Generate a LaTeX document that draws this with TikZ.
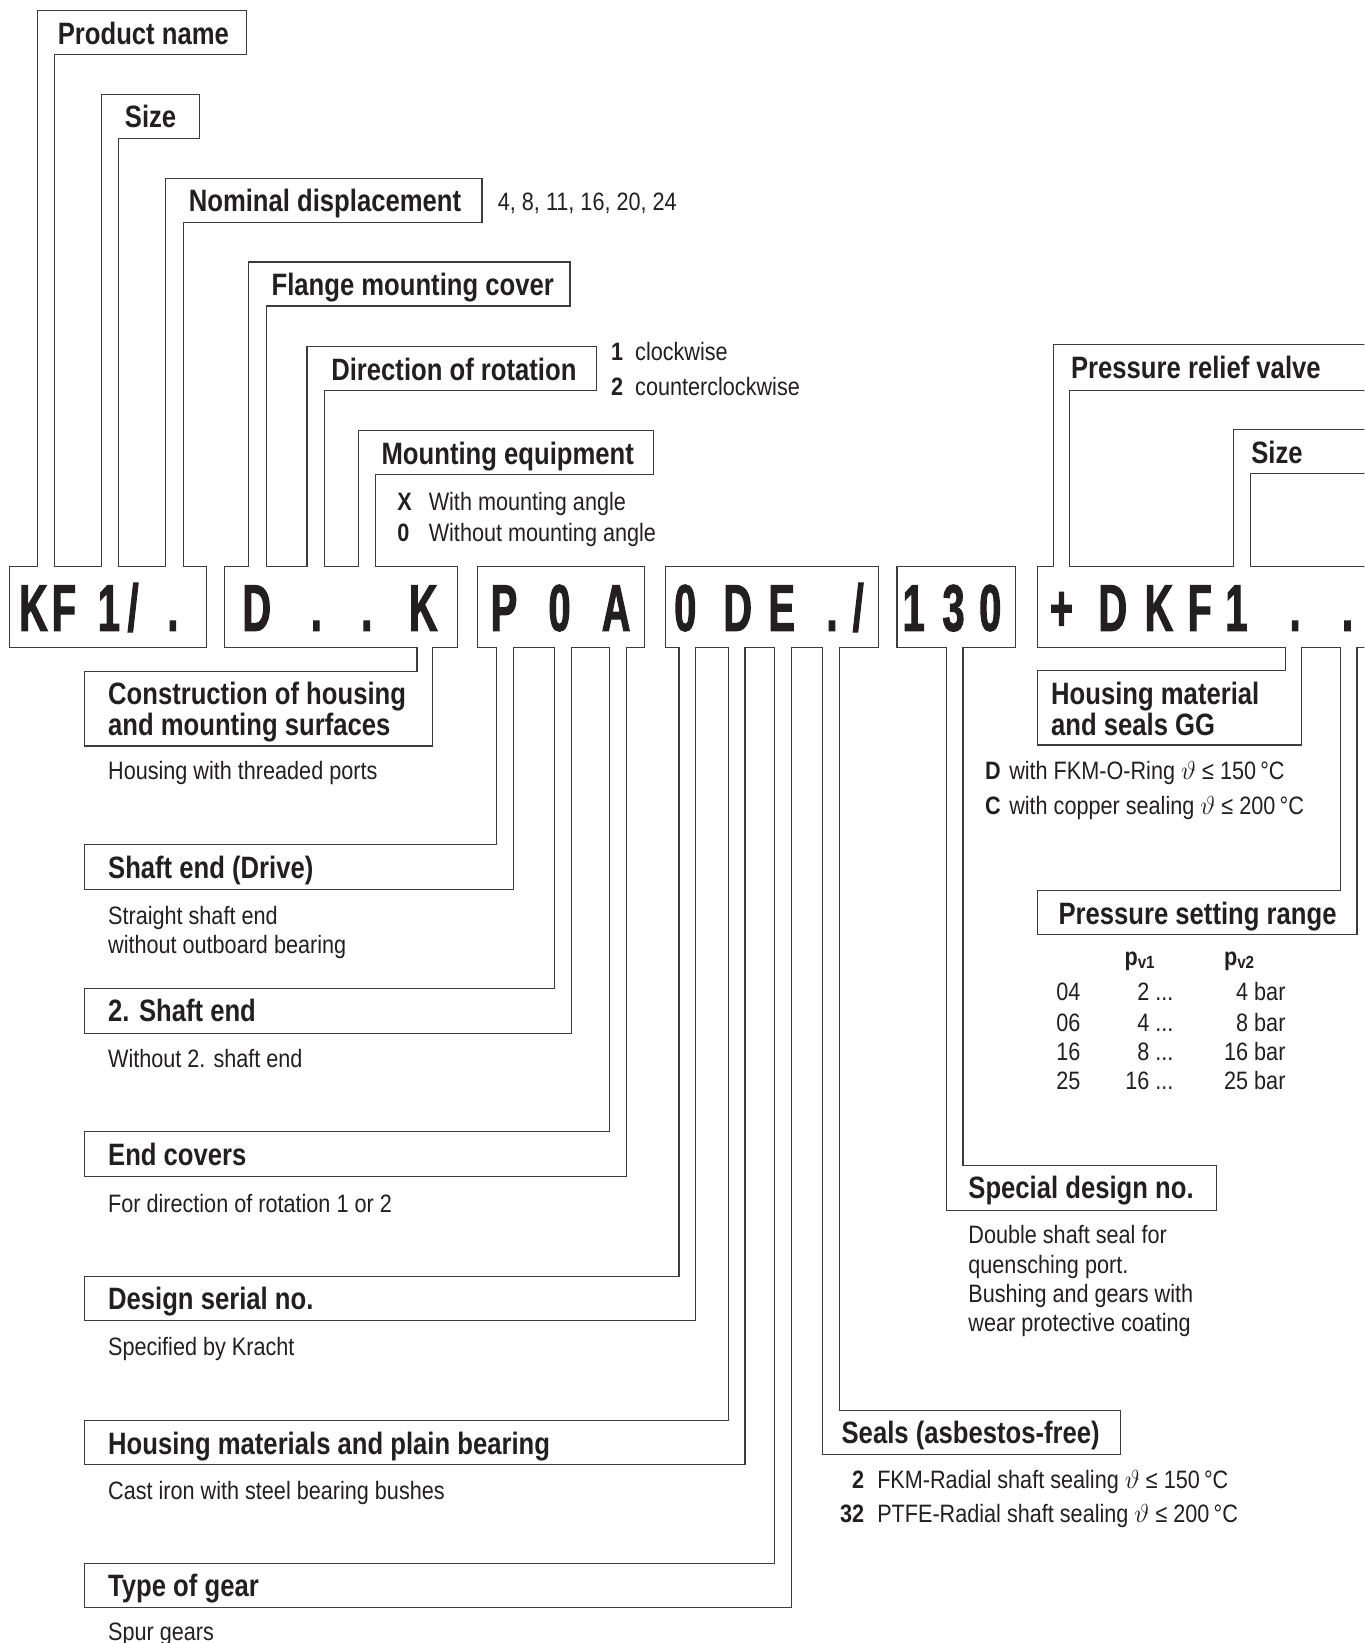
\documentclass[tikz,border=0pt]{standalone}
\usepackage{fontspec}
\setmainfont{Liberation Sans}[FakeStretch=0.86]
\newfontfamily\titlefam{Liberation Sans}[FakeStretch=0.83]
\newfontfamily\codefam{Liberation Sans}[FakeStretch=0.6, FakeBold=1.5]
\definecolor{ink}{RGB}{35,31,32}
\definecolor{rulegray}{RGB}{60,60,60}

\tikzset{
  outline/.style={draw=rulegray, line width=1.1pt, line join=miter},
  lbl/.style={font=\titlefam\bfseries\fontsize{29.5}{30}\selectfont, text=ink, anchor=base west, inner sep=0pt, align=left},
  txt/.style={font=\fontsize{24}{28}\selectfont, text=ink, anchor=base west, inner sep=0pt, align=left},
  keych/.style={txt, font=\bfseries\fontsize{24}{28}\selectfont},
  codech/.style={font=\codefam\bfseries\fontsize{63}{63}\selectfont, text=ink, anchor=base, inner sep=0pt}
}

\begin{document}
\begin{tikzpicture}[x=1pt,y=-1pt]
    \useasboundingbox (0,0) rectangle (1302,1568);
    \clip (0,0) rectangle (1302,1568);
  %  \draw[help lines, step=50] (0,0) grid (1302,1568);

    % code boxes with their label brackets
    \draw[outline] (9,618) -- (9,541) -- (36,541) -- (36,10) -- (235,10) -- (235,52) -- (52,52) -- (52,541)
        -- (97,541) -- (97,90) -- (190,90) -- (190,132) -- (113,132) -- (113,541)
        -- (158,541) -- (158,170) -- (460,170) -- (460,212) -- (175,212) -- (175,541)
        -- (197,541) -- (197,618) -- cycle;
    \draw[outline] (214,618) -- (214,541) -- (237,541) -- (237,250) -- (544,250) -- (544,292) -- (254,292) -- (254,541)
        -- (293,541) -- (293,331) -- (569,331) -- (569,373) -- (310,373) -- (310,541)
        -- (342,541) -- (342,411) -- (624,411) -- (624,453) -- (358,453) -- (358,541)
        -- (437,541) -- (437,618) -- (413,618) -- (413,712) -- (81,712) -- (81,641) -- (398,641) -- (398,618) -- cycle;
    \draw[outline] (456,541) -- (615,541) -- (615,618)
        -- (598,618) -- (598,1123) -- (81,1123) -- (81,1080) -- (582,1080) -- (582,618)
        -- (545,618) -- (545,986) -- (81,986) -- (81,943) -- (529,943) -- (529,618)
        -- (490,618) -- (490,849) -- (81,849) -- (81,806) -- (474,806) -- (474,618)
        -- (456,618) -- cycle;
    \draw[outline] (635,541) -- (838,541) -- (838,618)
        -- (801,618) -- (801,1346) -- (1069,1346) -- (1069,1388) -- (785,1388) -- (785,618)
        -- (755,618) -- (755,1534) -- (81,1534) -- (81,1492) -- (739,1492) -- (739,618)
        -- (711,618) -- (711,1398) -- (81,1398) -- (81,1356) -- (695,1356) -- (695,618)
        -- (664,618) -- (664,1260) -- (81,1260) -- (81,1218) -- (648,1218) -- (648,618)
        -- (635,618) -- cycle;
    \draw[outline] (856,541) -- (969,541) -- (969,618)
        -- (919,618) -- (919,1112) -- (1161,1112) -- (1161,1155) -- (903,1155) -- (903,618)
        -- (856,618) -- cycle;
    \draw[outline] (1310,541) -- (1193,541) -- (1193,452) -- (1310,452);
    \draw[outline] (1310,410) -- (1177,410) -- (1177,541) -- (1021,541) -- (1021,373) -- (1310,373);
    \draw[outline] (1310,329) -- (1005,329) -- (1005,541) -- (990,541) -- (990,618)
        -- (1227,618) -- (1227,640) -- (990,640) -- (990,711) -- (1242,711) -- (1242,618)
        -- (1279,618) -- (1279,850) -- (990,850) -- (990,892) -- (1295,892) -- (1295,618) -- (1310,618);

    % type code
    \node[codech] (k1) at (32,602) {K};
    \node[codech] (k2) at (61,602) {F};
    \node[codech] (k3) at (104,602) {1};
    \node[codech] (k4) at (127,602) {/};
    \node[codech] (k5) at (165,602) {.};
    \node[codech] (d1) at (245,602) {D};
    \node[codech] (d2) at (302,602) {.};
    \node[codech] (d3) at (350,602) {.};
    \node[codech] (d4) at (404,602) {K};
    \node[codech] (p1) at (481,602) {P};
    \node[codech] (p2) at (534,602) {0};
    \node[codech] (p3) at (588,602) {A};
    \node[codech] (e1) at (654,602) {0};
    \node[codech] (e2) at (704,602) {D};
    \node[codech] (e3) at (746,602) {E};
    \node[codech] (e4) at (794,602) {.};
    \node[codech] (e5) at (819,602) {/};
    \node[codech] (s1) at (872,602) {1};
    \node[codech] (s2) at (910,602) {3};
    \node[codech] (s3) at (945,602) {0};
    \node[codech] (v1) at (1013,602) {+};
    \node[codech] (v2) at (1062,602) {D};
    \node[codech] (v3) at (1106,602) {K};
    \node[codech] (v4) at (1145,602) {F};
    \node[codech] (v5) at (1180,602) {1};
    \node[codech] (v6) at (1236,602) {.};
    \node[codech] (v7) at (1286,602) {.};

    % upper labels
    \node[lbl] (prodname) at (55,42) {Product name};
    \node[lbl] (size) at (119,122) {Size};
    \node[lbl] (nomdisp) at (180,202) {Nominal displacement};
    \node[txt] (nomvals) at (475,201) {4, 8, 11, 16, 20, 24};
    \node[lbl] (flange) at (259,282) {Flange mounting cover};
    \node[lbl] (dirrot) at (316,363) {Direction of rotation};
    \node[keych] (rot1k) at (583,344) {1};
    \node[txt] (rot1) at (606,344) {clockwise};
    \node[keych] (rot2k) at (583,377) {2};
    \node[txt] (rot2) at (606,377) {counterclockwise};
    \node[lbl] (mounteq) at (364,443) {Mounting equipment};
    \node[keych] (mtxk) at (379,487) {X};
    \node[txt] (mtx) at (409,487) {With mounting angle};
    \node[keych] (mt0k) at (379,517) {0};
    \node[txt] (mt0) at (409,517) {Without mounting angle};

    % lower labels, left (base = last line)
    \node[lbl] (constr) at (103,702) {Construction of housing\\and mounting surfaces};
    \node[txt] (constrtxt) at (103,744) {Housing with threaded ports};
    \node[lbl] (shaft) at (103,838) {Shaft end (Drive)};
    \node[txt] (shafttxt) at (103,910) {Straight shaft end\\without outboard bearing};
    \node[lbl] (shaft2) at (103,975) {2. Shaft end};
    \node[txt] (shaft2txt) at (103,1019) {Without 2. shaft end};
    \node[lbl] (covers) at (103,1112) {End covers};
    \node[txt] (coverstxt) at (103,1157) {For direction of rotation 1 or 2};
    \node[lbl] (serial) at (103,1250) {Design serial no.};
    \node[txt] (serialtxt) at (103,1294) {Specified by Kracht};
    \node[lbl] (housmat) at (103,1388) {Housing materials and plain bearing};
    \node[txt] (housmattxt) at (103,1431) {Cast iron with steel bearing bushes};
    \node[lbl] (gear) at (103,1524) {Type of gear};
    \node[txt] (geartxt) at (103,1566) {Spur gears};

    % lower labels, right
    \node[lbl] (seals) at (803,1378) {Seals (asbestos-free)};
    \node[keych, anchor=base east] (seal2k) at (825,1421) {2};
    \node[txt] (seal2) at (837,1421) {FKM-Radial shaft sealing $\vartheta$ ≤ 150\,°C};
    \node[keych, anchor=base east] (seal32k) at (825,1453) {32};
    \node[txt] (seal32) at (837,1453) {PTFE-Radial shaft sealing $\vartheta$ ≤ 200\,°C};
    \node[lbl] (special) at (924,1144) {Special design no.};
    \node[txt] (specialtxt) at (924,1271) {Double shaft seal for\\quensching port.\\Bushing and gears with\\wear protective coating};

    % relief valve
    \node[lbl] (prv) at (1022,361) {Pressure relief valve};
    \node[lbl] (prvsize) at (1194,442) {Size};
    \node[lbl] (gg) at (1003,702) {Housing material\\and seals GG};
    \node[keych] (ggDk) at (940,744) {D};
    \node[txt] (ggD) at (963,744) {with FKM-O-Ring $\vartheta$ ≤ 150\,°C};
    \node[keych] (ggCk) at (940,777) {C};
    \node[txt] (ggC) at (963,777) {with copper sealing $\vartheta$ ≤ 200\,°C};
    \node[lbl] (psr) at (1010,882) {Pressure setting range};
    \node[keych] (pv1) at (1073,921) {p\textsubscript{v1}};
    \node[keych] (pv2) at (1168,921) {p\textsubscript{v2}};
    \node[txt] (r1a) at (1008,955) {04};
    \node[txt, anchor=base east] (r1b) at (1120,955) {2 ...};
    \node[txt, anchor=base east] (r1c) at (1227,955) {4 bar};
    \node[txt] (r2a) at (1008,984) {06};
    \node[txt, anchor=base east] (r2b) at (1120,984) {4 ...};
    \node[txt, anchor=base east] (r2c) at (1227,984) {8 bar};
    \node[txt] (r3a) at (1008,1012) {16};
    \node[txt, anchor=base east] (r3b) at (1120,1012) {8 ...};
    \node[txt, anchor=base east] (r3c) at (1227,1012) {16 bar};
    \node[txt] (r4a) at (1008,1040) {25};
    \node[txt, anchor=base east] (r4b) at (1120,1040) {16 ...};
    \node[txt, anchor=base east] (r4c) at (1227,1040) {25 bar};

\end{tikzpicture}
\end{document}
